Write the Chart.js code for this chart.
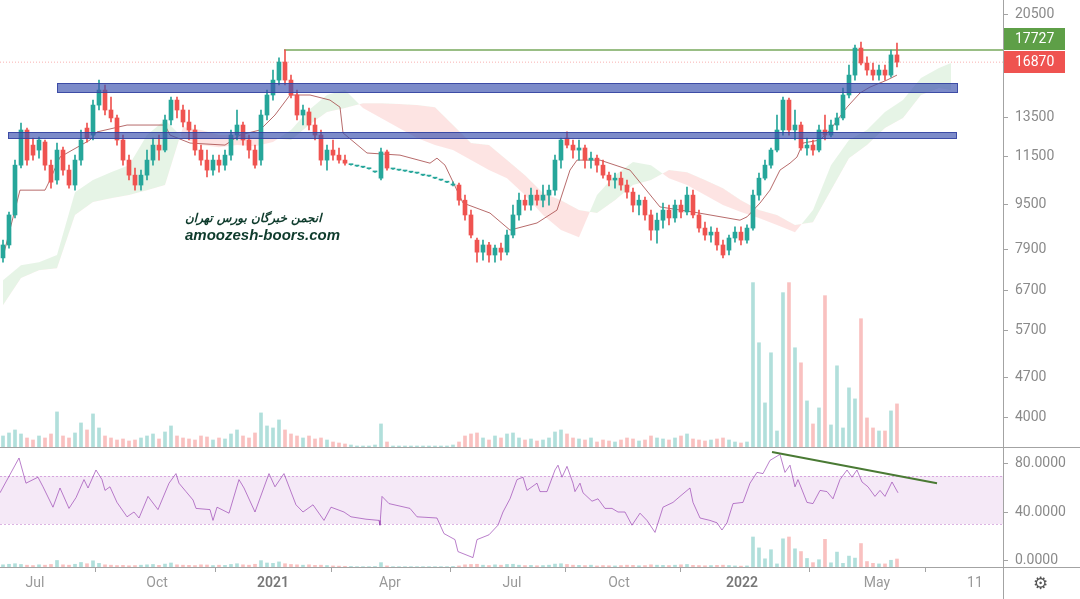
<!DOCTYPE html>
<html>
<head>
<meta charset="utf-8">
<script src="https://cdn.jsdelivr.net/npm/chart.js@4.4.1/dist/chart.umd.min.js"></script>
<style>
  body { margin: 0; background: #fff; }
  #wrap { position: relative; width: 1080px; height: 599px; overflow: hidden; }
  canvas { position: absolute; left: 0; }
  .wm { position: absolute; color: #0e3b2c; font-style: italic; font-weight: bold; white-space: nowrap; }
  #wmFa { left: 185px; top: 211px; font-family: "DejaVu Sans", sans-serif; font-size: 12px; }
  #wmEn { left: 185px; top: 226px; font-family: "Liberation Sans", Arial, sans-serif; font-size: 15px; }
  #gear { position: absolute; left: 1033px; top: 573px; font-family: "DejaVu Sans"; font-size: 17px; color: #555; }
</style>
</head>
<body>
<div id="wrap">
  <canvas id="priceChart" width="1080" height="448" style="top:0"></canvas>
  <canvas id="rsiChart" width="1080" height="151" style="top:448px"></canvas>
  <div class="wm" id="wmFa" dir="rtl">انجمن خبرگان بورس تهران</div>
  <div class="wm" id="wmEn">amoozesh-boors.com</div>
  <div id="gear">⚙</div>
</div>
<script>
// daily candles grouped (one bar per ~3 sessions)
var opens = [7640, 8050, 9090, 11120, 12820, 12060, 11820, 12210, 11120, 10470,
  11820, 10900, 10260, 11350, 12920, 12560, 14180, 15070, 13900, 13460,
  12310, 11350, 10680, 10260, 10680, 11350, 12060, 11820, 13350, 14470,
  13900, 13240, 12820, 11820, 11350, 10900, 11350, 11120, 11580, 12560,
  13080, 12310, 11820, 11350, 13620, 14770, 15690, 16880, 15690, 14770,
  13620, 13790, 13080, 12560, 11350, 11820, 11580, 11350, 11140, 11080,
  11030, 10960, 10820, 10550, 11730, 10950, 10900, 10860, 10810, 10770,
  10680, 10640, 10550, 10470, 10380, 10260, 10260, 9650, 9090, 8210,
  7820, 8050, 7730, 7950, 7820, 8380, 9090, 9650, 9460, 9850,
  9650, 9850, 10050, 11350, 12410, 12060, 11820, 11920, 11350, 11440,
  11120, 10680, 10470, 10550, 10260, 9970, 9460, 9650, 9090, 8550,
  8900, 9270, 8980, 9460, 9200, 9850, 9090, 8620, 8380, 8480,
  8050, 7885, 8280, 8480, 8210, 8620, 9850, 10550, 11120, 11820,
  12820, 14470, 12820, 13080, 11920, 12060, 11820, 12820, 12560, 13080,
  13460, 14770, 16010, 17860, 16810, 16340, 16010, 16340, 16010, 17370];
var highs = [8210, 9200, 11350, 13190, 12920, 12410, 12460, 12310, 11350, 12160,
  11960, 11120, 11580, 12820, 13190, 14470, 15690, 15380, 14650, 13620,
  12560, 11580, 10990, 10900, 11820, 12410, 12560, 13620, 14650, 14650,
  14180, 13900, 13080, 12060, 11820, 11580, 11580, 11820, 12820, 13900,
  13240, 12560, 12060, 13900, 15070, 16340, 17160, 17727, 16010, 15070,
  14180, 14010, 13460, 12820, 12060, 12310, 11920, 11580, 11160, 11100,
  11050, 10980, 10840, 11920, 11820, 10970, 10920, 10880, 10830, 10790,
  10700, 10660, 10570, 10490, 10400, 10390, 10340, 9850, 9270, 8280,
  8210, 8140, 8050, 8110, 8550, 9460, 9930, 9850, 10130, 10050,
  10260, 10260, 11580, 12410, 12720, 12310, 12310, 12060, 11730, 11580,
  11350, 10810, 10770, 10810, 10470, 10130, 9850, 9770, 9270, 9160,
  9540, 9460, 9650, 9650, 10180, 10050, 9270, 8830, 8660, 8620,
  8210, 8380, 8660, 8660, 8730, 10050, 10770, 11350, 11920, 13620,
  14650, 14590, 13900, 13240, 12410, 12310, 13080, 13620, 13350, 13730,
  15190, 16680, 18080, 18300, 17230, 16810, 16680, 16680, 17720, 18230];
var lows = [7510, 7950, 8980, 11000, 11120, 11350, 11440, 10900, 10130, 10300,
  10680, 10130, 10050, 11120, 12210, 12310, 13900, 13620, 13240, 12060,
  11120, 10470, 10050, 10050, 10470, 11120, 11350, 11730, 13080, 13460,
  12980, 12310, 11580, 11120, 10600, 10680, 10810, 10900, 11350, 12310,
  12060, 11440, 10990, 11120, 13350, 14470, 15380, 15380, 14590, 13350,
  13080, 12820, 12310, 11120, 10900, 11350, 11210, 11120, 11120, 11060,
  11010, 10940, 10800, 10470, 10900, 10930, 10880, 10840, 10790, 10750,
  10660, 10620, 10530, 10450, 10360, 10220, 9460, 8900, 8280, 7510,
  7570, 7510, 7510, 7570, 7730, 8280, 8900, 9270, 9270, 9460,
  9390, 9460, 9850, 10990, 11920, 11440, 11350, 10990, 10990, 10810,
  10550, 10220, 10130, 10050, 9730, 9200, 9090, 8900, 8210, 8110,
  8620, 8730, 8830, 8980, 9090, 8980, 8480, 8210, 8140, 7885,
  7640, 7730, 8140, 8050, 8110, 8550, 9650, 10470, 10990, 11730,
  12560, 12560, 12310, 11820, 11580, 11580, 11730, 12310, 12460, 12820,
  13350, 14590, 15690, 16680, 16010, 15690, 15690, 15690, 15880, 16540];
var closes = [8050, 9090, 11120, 12820, 11350, 11580, 12310, 11120, 10380, 11820,
  10900, 10260, 11350, 12310, 12410, 14180, 15070, 13900, 13460, 12310,
  11350, 10680, 10260, 10680, 11350, 12060, 11820, 13350, 14470, 13900,
  13240, 12820, 11820, 11350, 10900, 11350, 11120, 11580, 12560, 13080,
  12310, 11820, 11120, 13620, 14770, 15690, 16880, 15690, 14770, 13620,
  13900, 13080, 12560, 11350, 11820, 11580, 11350, 11210, 11150, 11090,
  11040, 10970, 10830, 11730, 10990, 10960, 10910, 10870, 10820, 10780,
  10690, 10650, 10560, 10480, 10390, 10300, 9650, 9090, 8380, 7820,
  8050, 7730, 7950, 7820, 8380, 9090, 9650, 9460, 9850, 9650,
  9850, 10050, 11350, 12310, 12060, 11820, 11920, 11350, 11440, 11120,
  10680, 10470, 10550, 10260, 9970, 9460, 9650, 9090, 8550, 8900,
  9270, 8980, 9460, 9200, 9850, 9090, 8620, 8380, 8480, 8050,
  7730, 8280, 8480, 8210, 8620, 9850, 10550, 11120, 11820, 12820,
  14470, 12820, 13080, 11920, 12060, 11820, 12820, 12560, 13080, 13460,
  14770, 16010, 17860, 16810, 16340, 16010, 16340, 16010, 17370, 16870];
var volume = [4.8, 6, 7.2, 5.6, 4, 3.2, 4.8, 4, 5.6, 14.4,
  4.8, 4, 6, 10, 7.2, 13.6, 8, 4.8, 4, 3.2,
  3.6, 2.8, 3.2, 4, 4.8, 5.6, 3.6, 6.4, 8.8, 4.8,
  4, 3.6, 3.2, 4.8, 4.4, 3.2, 4, 3.6, 5.6, 7.2,
  4.8, 4, 6, 14, 8.8, 8, 11.2, 7.2, 5.6, 4.8,
  4, 4.8, 3.6, 4, 3.2, 2.4, 2, 1.6, 1.2, 0.8,
  0.8, 0.8, 1.2, 9.6, 2.4, 0.8, 0.8, 0.8, 0.8, 0.8,
  0.8, 0.8, 0.8, 0.8, 0.8, 1.2, 2.4, 4.8, 5.6, 6,
  4, 3.2, 4.8, 4, 5.6, 6, 4, 3.2, 3.6, 2.8,
  3.2, 4, 6.4, 7.2, 5.6, 4, 3.6, 3.2, 4, 2.4,
  3.2, 2.8, 2.4, 3.2, 4, 3.6, 2.8, 3.2, 4.8, 4,
  3.6, 3.2, 4, 4.8, 5.6, 3.6, 3.2, 2.8, 3.2, 3.6,
  4, 3.2, 2.4, 2, 2.4, 66, 42, 18, 38, 6.8,
  62, 66, 40, 34, 18.8, 9.6, 16, 60.8, 9.2, 32.8,
  8, 24, 19.6, 51.6, 12, 8, 6.8, 6.8, 14.8, 17.6];

// ichimoku cloud (bar index, span A, span B)
var cloudIdx = [0, 3, 6, 9, 12, 15, 18, 21, 24, 27, 30, 33, 36, 39, 42, 45, 48, 51,
  54, 57, 60, 63, 66, 69, 72, 75, 78, 81, 84, 87, 90, 93, 96, 99, 102, 105, 108,
  111, 114, 117, 120, 123, 126, 129, 132, 135, 138, 141, 144, 147, 150, 153, 156, 158];
var spanA = [6980, 7420, 7510, 7730, 9970, 10470, 10810, 11120, 12560, 13350,
  12410, 12060, 11960, 12060, 12010, 12210, 12820, 13900, 14770, 15070,
  14010, 13460, 12920, 12410, 12060, 11820, 11350, 10900, 10550, 9850,
  9090, 8550, 8310, 9850, 10680, 11260, 11120, 10550, 10260, 9850,
  9460, 9200, 8980, 8730, 8480, 9270, 11120, 12310, 12820, 13790,
  14470, 15820, 16470, 16810];
var spanB = [6310, 7040, 7270, 7330, 9090, 9580, 9730, 9850, 10050, 10260,
  12980, 12820, 12560, 12560, 12460, 12410, 12310, 13080, 13790, 14010,
  14290, 14290, 14240, 14180, 14060, 13080, 12160, 12060, 11350, 10680,
  9930, 9650, 9270, 9160, 9650, 10260, 10470, 10900, 10810, 10470,
  10130, 9650, 9270, 9090, 8730, 8830, 10050, 11440, 12060, 12920,
  13460, 14770, 15190, 15070];

// base line
var baseIdx = [0, 2.83, 7, 7.83, 9.5, 14.5, 15.67, 20.67, 27, 27.83,
  31.17, 37, 39.5, 42.83, 45.33, 47.83, 51.17, 54.5, 56.17, 56.67,
  60.67, 66.17, 71.17, 72.33, 73.67, 76.67, 81.17, 84.5, 89, 92.33,
  94.5, 95.67, 99.5, 104.5, 109.5, 115, 122.83, 124, 126.17, 127.83,
  129.5, 131.17, 132.33, 133.33, 136.17, 137.83, 140.67, 142.83, 144.5, 147.33, 149];
var baseVal = [7670, 10050, 10050, 10470, 11490, 12310, 12720, 13080, 13080, 12560,
  12160, 12060, 12560, 12820, 13620, 14770, 14770, 14470, 14060, 12670,
  11680, 11580, 11210, 11440, 11120, 9540, 9160, 8550, 8800, 9270,
  10900, 11350, 11350, 10900, 9390, 9200, 8900, 9020, 9540, 10050,
  10900, 11210, 11490, 12160, 12310, 12820, 14060, 14890, 15250, 15690, 16010];

// RSI
var rsiIdx = [-0.5, 2.67, 3.83, 5.83, 6.67, 8.33, 9.5, 11, 12.17, 13.5,
  14.17, 15.5, 16.5, 17, 17.83, 19, 20.67, 21.83, 22.67, 24.17,
  25.83, 27.67, 28.83, 29.33, 30.5, 31.67, 32.17, 34.5, 35, 35.67,
  37.67, 39.33, 40.17, 42, 44.33, 45.33, 46.83, 48.83, 50, 51.67,
  53.5, 54.67, 56.83, 58, 60.5, 62.67, 62.83, 63.17, 64.33, 67.83,
  69, 72.33, 73.5, 75.33, 75.83, 78.33, 79, 81, 82.5, 83.33,
  84.5, 85.67, 86.67, 87.33, 89, 89.5, 90.67, 92, 92.5, 93.17,
  94, 95, 95.33, 96.17, 96.67, 98.17, 99.17, 100.33, 101.5, 102.5,
  103.67, 104.83, 106.17, 107.33, 108.67, 110, 111.67, 112.83, 114.5, 115,
  116.17, 117.83, 119, 119.83, 120.67, 121.67, 123.33, 124.5, 125.67, 126.67,
  127.83, 129.5, 130.33, 131.17, 132, 132.5, 134, 135, 136.17, 137.33,
  138.33, 139.5, 140.67, 141.5, 142.33, 143.17, 144.17, 145.33, 146.17, 147,
  148.17, 149.17];
var rsiVal = [56, 85, 64, 69, 61, 44, 60, 43, 52, 67,
  60, 75, 67, 58, 61, 48, 36, 40, 35, 53,
  42, 64, 72, 64, 57, 50, 43, 42, 33, 44,
  39, 67, 60, 40, 72, 61, 72, 46, 40, 46,
  33, 44, 40, 36, 34, 33, 29, 53, 47, 43,
  36, 35, 22, 17, 7, 2, 17, 21, 29, 40,
  51, 67, 69, 58, 64, 57, 57, 75, 79, 69,
  78, 64, 57, 64, 56, 49, 51, 43, 43, 40,
  40, 29, 39, 33, 23, 44, 48, 53, 60, 48,
  35, 33, 31, 25, 31, 47, 48, 64, 73, 72,
  83, 88, 73, 79, 61, 67, 48, 47, 58, 57,
  51, 67, 75, 69, 75, 65, 61, 53, 58, 53,
  65, 56];
var trendIdx = [128.17, 155.67];
var trendVal = [90, 64];

// drawings and axes
var zoneTop = [15510, 12740];
var zoneBottom = [14890, 12350];
var zoneFrom = [9, 0.83];
var zoneTo = [159.17, 159];
var resistance = 17727;
var resistanceFrom = 46.83;
var lastPrice = 16870;
var priceTicks = [4000, 4700, 5700, 6700, 7900, 9500, 11500, 13500, 20500];
var rsiTicks = [0, 40, 80];
var rsiUpper = 70;
var rsiLower = 30;
var timeTickIdx = [5.33, 25.67, 45, 64.5, 84.83, 102.67, 123.17, 145.67, 162];
var timeTickLabels = ['Jul', 'Oct', '2021', 'Apr', 'Jul', 'Oct', '2022', 'May', '11'];

var xMin = -0.5;
var xMax = 166.67;
var upColor = '#26a69a';
var downColor = '#ef5350';
var axisText = '#8a8a8a';
var lineGray = '#a3a3a3';
var axisFont = { family: 'Roboto', size: 14 };

var idx = closes.map(function (c, i) { return i; });
var candleColor = closes.map(function (c, i) { return c >= opens[i] ? upColor : downColor; });
var volColor = closes.map(function (c, i) {
  return c >= opens[i] ? 'rgba(38, 166, 154, 0.36)' : 'rgba(239, 83, 80, 0.36)';
});

function points(xs, ys) {
  return xs.map(function (x, k) { return { x: x, y: ys[k] }; });
}

function fixWidth(scale) {
  scale.width = 77;
  scale.paddingTop = 0;
  scale.paddingBottom = 0;
}

var zonesPlugin = {
  id: 'zones',
  afterDatasetsDraw: function (chart) {
    var ctx = chart.ctx, x = chart.scales.x, y = chart.scales.y;
    ctx.save();
    zoneTop.forEach(function (top, k) {
      var x0 = Math.round(x.getPixelForValue(zoneFrom[k]));
      var x1 = Math.round(x.getPixelForValue(zoneTo[k]));
      var y0 = Math.round(y.getPixelForValue(top));
      var y1 = Math.round(y.getPixelForValue(zoneBottom[k]));
      ctx.fillStyle = 'rgba(62, 84, 176, 0.68)';
      ctx.fillRect(x0, y0, x1 - x0, y1 - y0);
      ctx.strokeStyle = 'rgba(50, 66, 160, 0.85)';
      ctx.lineWidth = 1;
      ctx.strokeRect(x0 + 0.5, y0 + 0.5, x1 - x0 - 1, y1 - y0 - 1);
    });
    ctx.restore();
  }
};

var priceLabels = {
  id: 'priceLabels',
  afterDraw: function (chart) {
    var ctx = chart.ctx, area = chart.chartArea, y = chart.scales.y;
    var h = 22, w = 61, x0 = area.right + 1;
    var yRed = Math.round(y.getPixelForValue(lastPrice));
    ctx.save();
    ctx.fillStyle = downColor;
    ctx.fillRect(x0, yRed - h / 2, w, h);
    ctx.fillStyle = '#5e9f47';
    ctx.fillRect(x0, yRed - h / 2 - h - 1, w, h);
    ctx.fillStyle = '#fff';
    ctx.font = '14px Roboto';
    ctx.textBaseline = 'middle';
    ctx.fillText(String(lastPrice), area.right + 12, yRed);
    ctx.fillText(String(resistance), area.right + 12, yRed - h - 1);
    // pane separator
    ctx.strokeStyle = lineGray;
    ctx.beginPath();
    ctx.moveTo(0, area.bottom - 0.5);
    ctx.lineTo(chart.width, area.bottom - 0.5);
    ctx.stroke();
    ctx.restore();
  }
};

var rsiBand = {
  id: 'rsiBand',
  beforeDatasetsDraw: function (chart) {
    var ctx = chart.ctx, area = chart.chartArea, s = chart.scales.y;
    var yU = s.getPixelForValue(rsiUpper), yL = s.getPixelForValue(rsiLower);
    ctx.save();
    ctx.fillStyle = 'rgba(156, 39, 176, 0.1)';
    ctx.fillRect(area.left, yU, area.right - area.left, yL - yU);
    ctx.strokeStyle = 'rgba(156, 39, 176, 0.35)';
    ctx.setLineDash([2, 2]);
    ctx.beginPath();
    ctx.moveTo(area.left, Math.round(yU) + 0.5);
    ctx.lineTo(area.right, Math.round(yU) + 0.5);
    ctx.moveTo(area.left, Math.round(yL) + 0.5);
    ctx.lineTo(area.right, Math.round(yL) + 0.5);
    ctx.stroke();
    ctx.restore();
  },
  afterDraw: function (chart) {
    var ctx = chart.ctx, area = chart.chartArea;
    ctx.save();
    ctx.strokeStyle = lineGray;
    ctx.beginPath();
    ctx.moveTo(0, area.bottom + 0.5);
    ctx.lineTo(chart.width, area.bottom + 0.5);
    ctx.moveTo(area.right + 0.5, area.bottom);
    ctx.lineTo(area.right + 0.5, chart.height);
    ctx.stroke();
    ctx.restore();
  }
};

new Chart(document.getElementById('priceChart').getContext('2d'), {
  type: 'bar',
  data: {
    datasets: [
      {
        label: 'Body',
        data: idx.map(function (i) { return { x: i, y: [opens[i], closes[i]] }; }),
        backgroundColor: candleColor,
        barThickness: 4,
        minBarLength: 1,
        grouped: false,
        order: 0
      },
      {
        label: 'Wick',
        data: idx.map(function (i) { return { x: i, y: [lows[i], highs[i]] }; }),
        backgroundColor: candleColor,
        barThickness: 1,
        grouped: false,
        order: 1
      },
      {
        type: 'line',
        label: 'Base line',
        data: points(baseIdx, baseVal),
        borderColor: 'rgba(165, 70, 70, 0.8)',
        borderWidth: 1,
        pointRadius: 0,
        tension: 0,
        order: 2
      },
      {
        type: 'line',
        label: 'Resistance',
        data: [{ x: resistanceFrom, y: resistance }, { x: xMax, y: resistance }],
        borderColor: '#77a85c',
        borderWidth: 1.5,
        pointRadius: 0,
        order: 2
      },
      {
        type: 'line',
        label: 'Last price',
        data: [{ x: xMin, y: lastPrice }, { x: xMax, y: lastPrice }],
        borderColor: 'rgba(239, 83, 80, 0.45)',
        borderDash: [1, 2],
        borderWidth: 1,
        pointRadius: 0,
        order: 2
      },
      {
        type: 'line',
        label: 'Span A',
        data: points(cloudIdx, spanA),
        borderColor: 'rgba(0, 0, 0, 0)',
        borderWidth: 0,
        pointRadius: 0,
        tension: 0,
        fill: { target: '+1', above: 'rgba(76, 175, 80, 0.14)', below: 'rgba(244, 67, 54, 0.14)' },
        order: 8
      },
      {
        type: 'line',
        label: 'Span B',
        data: points(cloudIdx, spanB),
        borderColor: 'rgba(0, 0, 0, 0)',
        borderWidth: 0,
        pointRadius: 0,
        tension: 0,
        fill: false,
        order: 9
      },
      {
        label: 'Volume',
        data: idx.map(function (i) { return { x: i, y: volume[i] }; }),
        yAxisID: 'yv',
        backgroundColor: volColor,
        barThickness: 3,
        grouped: false,
        order: 10
      }
    ]
  },
  options: {
    responsive: false,
    animation: false,
    devicePixelRatio: 1,
    layout: { padding: 0 },
    plugins: { legend: { display: false }, tooltip: { enabled: false } },
    scales: {
      x: { type: 'linear', display: false, min: xMin, max: xMax, offset: false },
      y: {
        type: 'logarithmic',
        position: 'right',
        min: 3540,
        max: 21695,
        afterBuildTicks: function (s) { s.ticks = priceTicks.map(function (v) { return { value: v }; }); },
        afterFit: fixWidth,
        ticks: { callback: function (v) { return String(v); }, color: axisText, font: axisFont, padding: 7, autoSkip: false },
        grid: { drawOnChartArea: false, tickLength: 5, color: lineGray },
        border: { color: lineGray }
      },
      yv: { type: 'linear', display: false, min: 0, max: 178.8 }
    }
  },
  plugins: [zonesPlugin, priceLabels]
});

new Chart(document.getElementById('rsiChart').getContext('2d'), {
  type: 'line',
  data: {
    datasets: [
      {
        label: 'RSI',
        data: points(rsiIdx, rsiVal),
        borderColor: 'rgba(149, 60, 175, 0.65)',
        borderWidth: 1,
        pointRadius: 0,
        tension: 0,
        order: 1
      },
      {
        label: 'RSI trend',
        data: points(trendIdx, trendVal),
        borderColor: '#4a7a34',
        borderWidth: 2,
        pointRadius: 0,
        order: 0
      },
      {
        type: 'bar',
        label: 'Volume',
        data: idx.map(function (i) { return { x: i, y: volume[i] }; }),
        yAxisID: 'yv',
        backgroundColor: volColor,
        barThickness: 3,
        grouped: false,
        order: 5
      }
    ]
  },
  options: {
    responsive: false,
    animation: false,
    devicePixelRatio: 1,
    layout: { padding: 0 },
    plugins: { legend: { display: false }, tooltip: { enabled: false } },
    scales: {
      x: {
        type: 'linear',
        min: xMin,
        max: xMax,
        offset: false,
        afterBuildTicks: function (s) { s.ticks = timeTickIdx.map(function (v) { return { value: v }; }); },
        afterFit: function (s) { s.height = 32; s.paddingLeft = 0; s.paddingRight = 0; },
        ticks: {
          autoSkip: false,
          maxRotation: 0,
          padding: 3,
          callback: function (v, i) { return timeTickLabels[i]; },
          color: function (c) { return /^\d{4}$/.test(timeTickLabels[c.index]) ? '#777' : '#999'; },
          font: function (c) {
            return { family: 'Roboto', size: 14, weight: /^\d{4}$/.test(timeTickLabels[c.index]) ? '600' : 'normal' };
          }
        },
        grid: { drawOnChartArea: false, tickLength: 5, color: lineGray },
        border: { color: lineGray }
      },
      y: {
        position: 'right',
        min: -5.83,
        max: 93.33,
        afterBuildTicks: function (s) { s.ticks = rsiTicks.map(function (v) { return { value: v }; }); },
        afterFit: fixWidth,
        ticks: { callback: function (v) { return v.toFixed(4); }, color: axisText, font: axisFont, padding: 7 },
        grid: { drawOnChartArea: false, tickLength: 5, color: lineGray },
        border: { color: lineGray }
      },
      yv: { type: 'linear', display: false, min: 0, max: 261.8 }
    }
  },
  plugins: [rsiBand]
});
</script>
</body>
</html>
